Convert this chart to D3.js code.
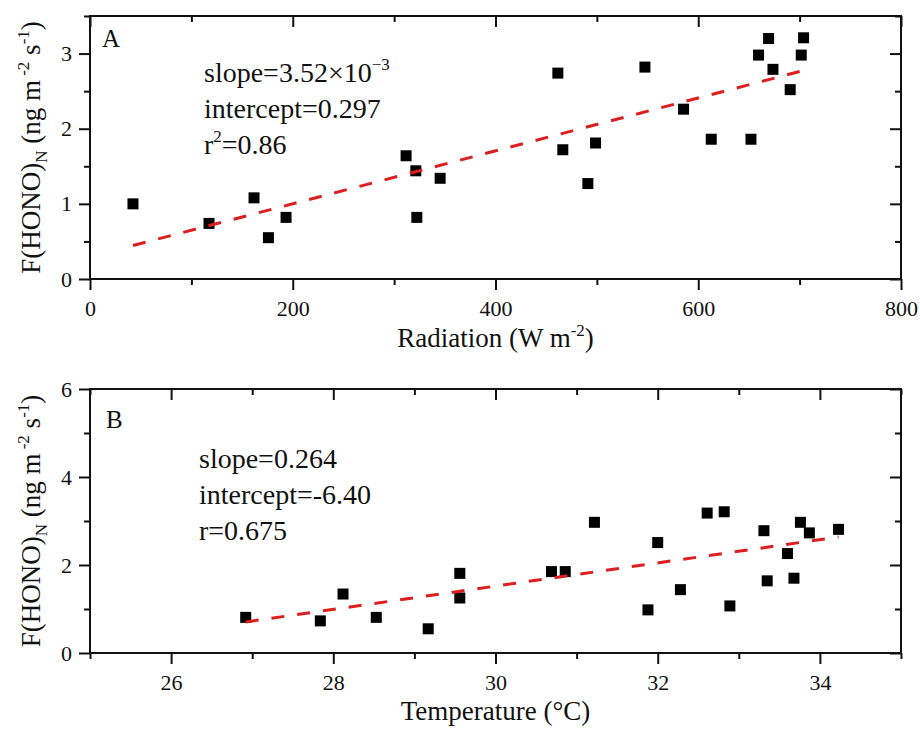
<!DOCTYPE html>
<html>
<head>
<meta charset="utf-8">
<script src="https://cdn.jsdelivr.net/npm/d3@7"></script>
<style>
  html, body { margin: 0; padding: 0; background: #fff; }
  svg, svg text { font-family: "Liberation Serif", "Times New Roman", serif; }
  svg text { fill: #111; }
</style>
</head>
<body>
<svg id="chart" width="920" height="733"></svg>
<script>
// ---------------- data ----------------
const radiation = [42.4, 117.4, 161.8, 176, 193.4, 311.8, 321.4, 322.4, 345.4, 461.5, 466.4, 498.7, 491.1, 547.4, 585.5, 612.8, 652, 659.5, 669.4, 673.7, 690.7, 701.6, 703.9];
const fluxA     = [1.00, 0.74, 1.08, 0.55, 0.82, 1.64, 1.44, 0.82, 1.34, 2.74, 1.72, 1.81, 1.27, 2.82, 2.26, 1.86, 1.86, 2.98, 3.20, 2.79, 2.52, 2.98, 3.21];

const temperature = [26.92, 27.84, 28.12, 28.53, 29.17, 29.56, 29.56, 30.69, 30.86, 31.22, 31.88, 32.0, 32.28, 32.61, 32.82, 32.89, 33.31, 33.35, 33.60, 33.68, 33.76, 33.87, 34.23];
const fluxB       = [0.81, 0.73, 1.34, 0.81, 0.55, 1.81, 1.25, 1.85, 1.85, 2.97, 0.98, 2.51, 1.44, 3.18, 3.21, 1.07, 2.78, 1.64, 2.26, 1.70, 2.97, 2.73, 2.81];

const fitA = { slope: 3.52e-3, intercept: 0.297 };
const fitB = { slope: 0.264, intercept: -6.40 };

const xTicksA = [0, 200, 400, 600, 800];
const xMinorA = [100, 300, 500, 700];
const yTicksA = [0, 1, 2, 3];
const yMinorA = [0.5, 1.5, 2.5, 3.5];

const xTicksB = [26, 28, 30, 32, 34];
const xMinorB = [25, 27, 29, 31, 33, 35];
const yTicksB = [0, 2, 4, 6];
const yMinorB = [1, 3, 5];

const annotA = ["slope=3.52×10", "intercept=0.297", "r=0.86"];
const annotB = ["slope=0.264", "intercept=-6.40", "r=0.675"];

// ---------------- drawing ----------------
const FONT = '"Liberation Serif", "Times New Roman", serif';
const svg = d3.select("#chart").attr("font-family", FONT);
const L = 90, R = 901;

function panel(cfg) {
  const g = svg.append("g");
  const x = d3.scaleLinear().domain(cfg.xDomain).range([L, R]);
  const y = d3.scaleLinear().domain(cfg.yDomain).range([cfg.bottom, cfg.top]);

  const styleAxis = sel => {
    sel.attr("font-family", FONT).attr("font-size", null);
    sel.select(".domain").remove();
    sel.selectAll(".tick line").attr("stroke", "#111").attr("stroke-width", 2);
    sel.selectAll(".tick text").style("font-size", "22px").style("font-family", FONT).attr("fill", "#111");
  };

  // bottom (outward)
  g.append("g").attr("transform", `translate(0,${cfg.bottom})`)
    .call(d3.axisBottom(x).tickValues(cfg.xTicks).tickSize(11).tickPadding(10).tickFormat(d3.format("d")))
    .call(styleAxis);
  g.append("g").attr("transform", `translate(0,${cfg.bottom})`)
    .call(d3.axisBottom(x).tickValues(cfg.xMinor).tickSize(6).tickFormat(""))
    .call(styleAxis);
  // top (inward)
  g.append("g").attr("transform", `translate(0,${cfg.top})`)
    .call(d3.axisBottom(x).tickValues(cfg.xTicks).tickSize(11).tickFormat(""))
    .call(styleAxis);
  g.append("g").attr("transform", `translate(0,${cfg.top})`)
    .call(d3.axisBottom(x).tickValues(cfg.xMinor).tickSize(6).tickFormat(""))
    .call(styleAxis);
  // left (outward)
  g.append("g").attr("transform", `translate(${L},0)`)
    .call(d3.axisLeft(y).tickValues(cfg.yTicks).tickSize(11).tickPadding(7).tickFormat(d3.format("d")))
    .call(styleAxis);
  g.append("g").attr("transform", `translate(${L},0)`)
    .call(d3.axisLeft(y).tickValues(cfg.yMinor).tickSize(6).tickFormat(""))
    .call(styleAxis);
  // right (inward)
  g.append("g").attr("transform", `translate(${R},0)`)
    .call(d3.axisLeft(y).tickValues(cfg.yTicks).tickSize(11).tickFormat(""))
    .call(styleAxis);
  g.append("g").attr("transform", `translate(${R},0)`)
    .call(d3.axisLeft(y).tickValues(cfg.yMinor).tickSize(6).tickFormat(""))
    .call(styleAxis);

  // frame
  g.append("rect").attr("x", L).attr("y", cfg.top)
    .attr("width", R - L).attr("height", cfg.bottom - cfg.top)
    .attr("fill", "none").attr("stroke", "#111").attr("stroke-width", 2);

  // points
  const pts = cfg.xs.map((v, i) => [v, cfg.ys[i]]);
  g.append("g").selectAll("rect").data(pts).join("rect")
    .attr("x", d => x(d[0]) - 5.5).attr("y", d => y(d[1]) - 5.5)
    .attr("width", 11).attr("height", 11).attr("fill", "#000");

  // fit line
  const ext = d3.extent(cfg.xs);
  g.append("path")
    .datum(ext.map(v => [v, cfg.fit.intercept + cfg.fit.slope * v]))
    .attr("d", d3.line().x(d => x(d[0])).y(d => y(d[1])))
    .attr("fill", "none").attr("stroke", "#dc1e1e").attr("stroke-width", 3)
    .attr("stroke-dasharray", "13,13");

  // panel letter
  g.append("text").attr("x", cfg.letterX).attr("y", cfg.letterY)
    .style("font-size", "25px").text(cfg.letter);

  // y label
  const yl = g.append("text")
    .attr("transform", `translate(31,${(cfg.top + cfg.bottom) / 2}) rotate(-90)`)
    .attr("text-anchor", "middle").attr("dy", "0.35em").style("font-size", "27px");
  yl.append("tspan").text("F(HONO)");
  yl.append("tspan").attr("dy", 7).style("font-size", "17px").text("N");
  yl.append("tspan").attr("dy", -7).text(" (ng m");
  yl.append("tspan").attr("dy", -11).style("font-size", "17px").text(" -2");
  yl.append("tspan").attr("dy", 11).text(" s");
  yl.append("tspan").attr("dy", -11).style("font-size", "17px").text("-1");
  yl.append("tspan").attr("dy", 11).text(")");

  return { g, x, y };
}

const A = panel({
  xDomain: [0, 800], yDomain: [0, 3.5], top: 16, bottom: 279,
  xTicks: xTicksA, xMinor: xMinorA, yTicks: yTicksA, yMinor: yMinorA,
  xs: radiation, ys: fluxA, fit: fitA, letter: "A", letterX: 102, letterY: 47
});
const B = panel({
  xDomain: [25, 35], yDomain: [0, 6], top: 389, bottom: 653,
  xTicks: xTicksB, xMinor: xMinorB, yTicks: yTicksB, yMinor: yMinorB,
  xs: temperature, ys: fluxB, fit: fitB, letter: "B", letterX: 106, letterY: 428
});

// x axis titles
const xtA = A.g.append("text").attr("x", (L + R) / 2).attr("y", 347)
  .attr("text-anchor", "middle").style("font-size", "27px");
xtA.append("tspan").text("Radiation (W m");
xtA.append("tspan").attr("dy", -11).style("font-size", "17px").text("-2");
xtA.append("tspan").attr("dy", 11).text(")");

B.g.append("text").attr("x", (L + R) / 2).attr("y", 720)
  .attr("text-anchor", "middle").style("font-size", "27px").text("Temperature (°C)");

// annotations
const aA = A.g.append("g").style("font-size", "28px");
let t = aA.append("text").attr("x", 204).attr("y", 82);
t.append("tspan").text(annotA[0]);
t.append("tspan").attr("dy", -12).style("font-size", "17px").text("−3");
aA.append("text").attr("x", 204).attr("y", 118).text(annotA[1]);
t = aA.append("text").attr("x", 204).attr("y", 154);
t.append("tspan").text(annotA[2].slice(0, 1));
t.append("tspan").attr("dy", -12).style("font-size", "17px").text("2");
t.append("tspan").attr("dy", 12).text(annotA[2].slice(1));

const aB = B.g.append("g").style("font-size", "28px");
annotB.forEach((s, i) => {
  aB.append("text").attr("x", 199).attr("y", 468 + i * 36).text(s);
});
</script>
</body>
</html>
